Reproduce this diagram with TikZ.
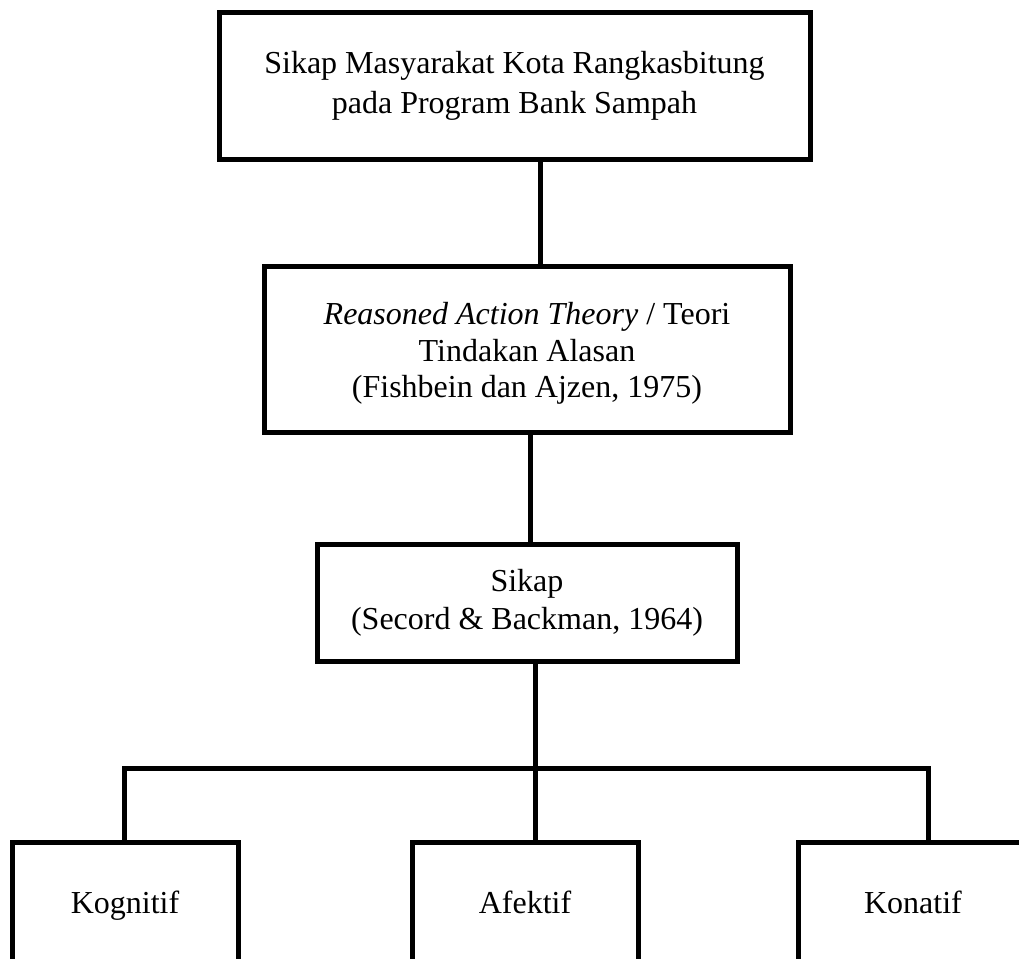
\documentclass[tikz,border=0pt]{standalone}
\usepackage{fontspec}
\setmainfont{Liberation Serif}
\begin{document}
\begin{tikzpicture}[x=1pt,y=-1pt,
  box/.style={draw, line width=5pt, inner sep=0pt, align=center,
    font=\fontsize{32}{38}\selectfont},
  leaf/.style={box, minimum height=122pt, text height=22pt, text depth=2pt},
  conn/.style={line width=5pt}]
\clip (0,0) rectangle (1019,958);
\node[box, minimum width=591pt, minimum height=146pt] (b1) at (514.5,86)
  {Sikap Masyarakat Kota Rangkasbitung\\[2pt]pada Program Bank Sampah};
\node[box, minimum width=526pt, minimum height=166pt] (b2) at (527,349)
  {\raisebox{-5pt}[\height][\depth]{\fontsize{32}{36.5}\selectfont\begin{tabular}{@{}c@{}}\textit{Reasoned Action Theory} / Teori\\Tindakan Alasan\\(Fishbein dan Ajzen, 1975)\end{tabular}}};
\node[box, minimum width=420pt, minimum height=117pt] (b3) at (527,602.5)
  {Sikap\\(Secord \& Backman, 1964)};
\node[leaf, minimum width=226pt] (k1) at (125,903) {Kognitif};
\node[leaf, minimum width=226pt] (k2) at (525,903) {Afektif};
\node[leaf, minimum width=230pt] (k3) at (913,903) {Konatif};
\coordinate (j1) at (540,0);
\coordinate (j2) at (530,0);
\coordinate (j3) at (535,768);
\coordinate (hl) at (124,768);
\coordinate (hr) at (928,768);
\draw[conn] (b1.south -| j1) -- (b2.north -| j1);
\draw[conn] (b2.south -| j2) -- (b3.north -| j2);
\draw[conn] (b3.south -| j3) -- (j3);
\draw[conn] (k1.north -| hl) -- (hl) -- (hr) -- (k3.north -| hr);
\draw[conn] (j3) -- (k2.north -| j3);
\end{tikzpicture}
\end{document}
